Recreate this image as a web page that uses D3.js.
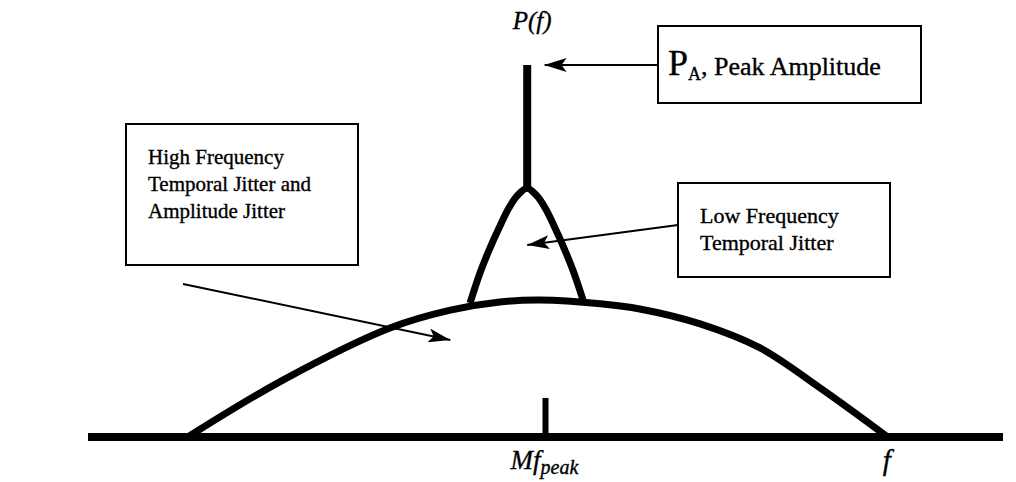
<!DOCTYPE html>
<html>
<head>
<meta charset="utf-8">
<script src="https://cdn.jsdelivr.net/npm/d3@7"></script>
<style>
  body { margin: 0; background: #fff; }
  text { font-family: "Liberation Serif", "Times New Roman", serif; fill: #000; stroke: #000; stroke-width: 0.35; }
</style>
</head>
<body>
<div id="chart"></div>
<script>
var width = 1016,
    height = 482;

// frequency / power values, arbitrary units (Mf_peak at f = 5)
var wideF = [1.09, 2.13, 3.30, 3.96, 4.50, 4.94, 5.60, 6.03, 6.69, 7.34, 8.00, 8.74];
var wideP = [0, 1.53, 2.93, 3.41, 3.63, 3.68, 3.58, 3.44, 3.04, 2.40, 1.32, 0];

var narrowF = [4.175, 4.284, 4.393, 4.492, 4.601, 4.689, 4.798, 4.907, 4.995, 5.104, 5.202, 5.311, 5.421];
var narrowP = [3.60, 4.41, 5.08, 5.62, 6.16, 6.48, 6.69, 6.48, 6.16, 5.62, 5.08, 4.41, 3.60];

var peakF = 4.80,
    peakP = [6.69, 10];
var mfPeak = 5.0,
    tickP = [0, 1.05];
var axisF = [0, 10];

var labels = ["P(f)", "Mf", "peak", "f"];

var annotations = [
    {id: "pa", lines: [], size: 21, tipF: 4.99, tipP: 10},
    {id: "lf", lines: ["Low Frequency", "Temporal Jitter"], size: 22, tipF: 4.80, tipP: 5.16},
    {id: "hf", lines: ["High Frequency", "Temporal Jitter and", "Amplitude Jitter"], size: 21, tipF: 3.96, tipP: 2.61}
];

var x = d3.scaleLinear().domain([0, 10]).range([88, 1003]);
var y = d3.scaleLinear().domain([0, 10]).range([437, 65]);

var svg = d3.select("#chart").append("svg")
    .attr("width", width)
    .attr("height", height);

svg.append("defs").append("marker")
    .attr("id", "head")
    .attr("markerUnits", "userSpaceOnUse")
    .attr("viewBox", "0 0 22 14")
    .attr("refX", 22).attr("refY", 7)
    .attr("markerWidth", 22).attr("markerHeight", 14)
    .attr("orient", "auto")
    .append("path")
    .attr("d", "M0,0L22,7L0,14L5,7Z")
    .attr("fill", "#000");

var line = d3.line()
    .x(function (d) { return x(d[0]); })
    .y(function (d) { return y(d[1]); })
    .curve(d3.curveCatmullRom.alpha(0.5));

// baseline
svg.append("line")
    .attr("x1", x(axisF[0])).attr("x2", x(axisF[1]))
    .attr("y1", y(0)).attr("y2", y(0))
    .attr("stroke", "#000").attr("stroke-width", 8);

// Mf_peak tick
svg.append("line")
    .attr("x1", x(mfPeak)).attr("x2", x(mfPeak))
    .attr("y1", y(tickP[0])).attr("y2", y(tickP[1]))
    .attr("stroke", "#000").attr("stroke-width", 6);

// wide bell (high frequency jitter)
svg.append("path")
    .datum(d3.zip(wideF, wideP))
    .attr("d", line)
    .attr("fill", "none").attr("stroke", "#000").attr("stroke-width", 7);

// narrow bell (low frequency jitter)
svg.append("path")
    .datum(d3.zip(narrowF, narrowP))
    .attr("d", line)
    .attr("fill", "none").attr("stroke", "#000").attr("stroke-width", 7);

// peak spike
svg.append("line")
    .attr("x1", x(peakF)).attr("x2", x(peakF))
    .attr("y1", y(peakP[0]) + 2).attr("y2", y(peakP[1]))
    .attr("stroke", "#000").attr("stroke-width", 8);

// axis labels
svg.append("text")
    .attr("x", x(peakF) + 5).attr("y", 29)
    .attr("text-anchor", "middle")
    .attr("font-size", 25).attr("font-style", "italic")
    .text(labels[0]);

var mf = svg.append("text")
    .attr("x", x(mfPeak) - 35).attr("y", 469)
    .attr("font-size", 27).attr("font-style", "italic");
mf.append("tspan").text(labels[1]);
mf.append("tspan").attr("dy", 5).attr("font-size", 20).text(labels[2]);

svg.append("text")
    .attr("x", x(8.74) - 5).attr("y", 470)
    .attr("font-size", 29).attr("font-style", "italic")
    .text(labels[3]);

// annotation boxes
var boxes = {
    pa: {x: 658, y: 26, w: 263, h: 77, tx: 658, ty: 65},
    lf: {x: 678, y: 183, w: 212, h: 94, tx: 678, ty: 225},
    hf: {x: 126, y: 124, w: 232, h: 141, tx: 183, ty: 284}
};

annotations.forEach(function (a) {
    var b = boxes[a.id];
    svg.append("rect")
        .attr("x", b.x).attr("y", b.y)
        .attr("width", b.w).attr("height", b.h)
        .attr("fill", "#fff").attr("stroke", "#000").attr("stroke-width", 2);
    svg.append("line")
        .attr("x1", b.tx).attr("y1", b.ty)
        .attr("x2", x(a.tipF)).attr("y2", y(a.tipP))
        .attr("stroke", "#000").attr("stroke-width", 2)
        .attr("marker-end", "url(#head)");
    var t = svg.append("text")
        .attr("y", b.y + 40)
        .attr("font-size", a.size);
    a.lines.forEach(function (s, i) {
        t.append("tspan")
            .attr("x", b.x + 22)
            .attr("dy", i == 0 ? 0 : 27)
            .text(s);
    });
});

// P_A, Peak Amplitude
var pa = svg.append("text")
    .attr("x", 668).attr("y", 75);
pa.append("tspan").attr("font-size", 36).text("P");
pa.append("tspan").attr("font-size", 18).attr("dy", 5).text("A");
pa.append("tspan").attr("font-size", 26).attr("dy", -5).text(", Peak Amplitude");
</script>
</body>
</html>
